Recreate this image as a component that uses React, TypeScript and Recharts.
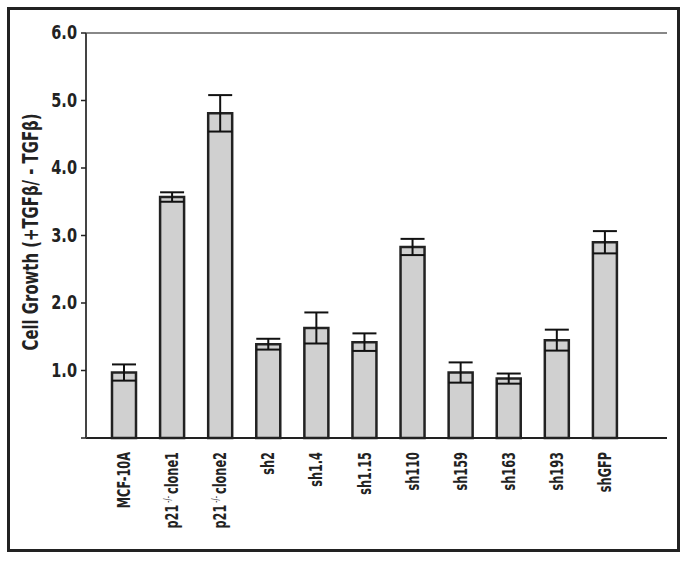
import React from 'react'
import { BarChart, Bar, XAxis, YAxis, ErrorBar, ReferenceLine, Label } from 'recharts'

const categories = ['MCF-10A', 'p21-/- clone1', 'p21-/- clone2', 'sh2', 'sh1.4', 'sh1.15', 'sh110', 'sh159', 'sh163', 'sh193', 'shGFP']
const growth = [0.97, 3.57, 4.81, 1.39, 1.63, 1.42, 2.83, 0.97, 0.88, 1.45, 2.9]
const growthErr = [0.12, 0.07, 0.27, 0.08, 0.23, 0.13, 0.12, 0.15, 0.075, 0.155, 0.165]
const yTicks = [0, 1, 2, 3, 4, 5, 6]

const data = categories.map((name, i) => ({ name, value: growth[i], err: growthErr[i] }))

const FONT = "'DejaVu Sans Condensed', 'Liberation Sans Narrow', sans-serif"
const INK = '#222'

function CategoryTick(props: any) {
    const { x, y, payload } = props
    const label: string = payload.value
    const m = label.match(/^(p21)-\/- (.*)$/)
    // condensed face: squeeze along the reading direction
    return (
        <g transform={`translate(${x},${y + 6}) rotate(-90) scale(0.7,1)`}>
            <text x={0} y={0} dy={6} textAnchor="end" fill={INK} fontSize={18} fontWeight="bold" fontFamily={FONT}>
                {m ? (
                    <>
                        <tspan>{m[1]}</tspan>
                        <tspan fontSize={10} fontWeight="normal" dy={-7}> -/- </tspan>
                        <tspan dy={7}>{m[2]}</tspan>
                    </>
                ) : label}
            </text>
        </g>
    )
}

function ValueTick(props: any) {
    const { x, y, payload } = props
    if (payload.value === 0) return null
    return (
        <g transform={`translate(${x},${y})`}>
            <text x={0} y={0} dy={6} textAnchor="end" fill={INK} fontSize={19} fontWeight="bold" fontFamily={FONT} transform="scale(0.85,1)">
                {payload.value.toFixed(1)}
            </text>
        </g>
    )
}

export default function App() {
    return (
        <div style={{ position: 'absolute', left: 0, top: 0, width: 690, height: 561, background: '#fff' }}>
            <div style={{ position: 'absolute', left: 7, top: 7, width: 673, height: 545, border: `3px solid ${INK}`, boxSizing: 'border-box' }} />
            <BarChart
                width={690}
                height={561}
                data={data}
                margin={{ top: 33, right: 23, left: 0, bottom: 0 }}
                style={{ position: 'absolute', left: 0, top: 0 }}
            >
                <XAxis
                    dataKey="name"
                    height={123}
                    interval={0}
                    padding={{ left: 14, right: 38 }}
                    tickLine={false}
                    axisLine={{ stroke: INK, strokeWidth: 2 }}
                    tick={<CategoryTick />}
                />
                <YAxis
                    width={86}
                    domain={[0, 6]}
                    ticks={yTicks}
                    interval={0}
                    tickSize={5}
                    tickMargin={4}
                    tickLine={{ stroke: INK, strokeWidth: 1.5 }}
                    axisLine={{ stroke: '#444', strokeWidth: 2 }}
                    tick={<ValueTick />}
                >
                    <Label
                        content={() => (
                            <text
                                x={30}
                                y={232}
                                transform="rotate(-90 30 232)"
                                textAnchor="middle"
                                dominantBaseline="central"
                                fill={INK}
                                fontSize={22}
                                fontWeight="bold"
                                fontFamily={FONT}
                                textLength={237}
                                lengthAdjust="spacingAndGlyphs"
                            >
                                Cell Growth (+TGFβ/ - TGFβ)
                            </text>
                        )}
                    />
                </YAxis>
                <YAxis yAxisId="right" orientation="right" width={0} tick={false} tickLine={false} axisLine={{ stroke: INK, strokeWidth: 2.5 }} domain={[0, 6]} />
                <ReferenceLine y={6} stroke="#888" strokeWidth={2} />
                <Bar dataKey="value" fill="#d0d0d0" stroke={INK} strokeWidth={2.5} barSize={24} isAnimationActive={false}>
                    <ErrorBar dataKey="err" width={12} stroke="#111" strokeWidth={2} isAnimationActive={false} />
                </Bar>
            </BarChart>
        </div>
    )
}
